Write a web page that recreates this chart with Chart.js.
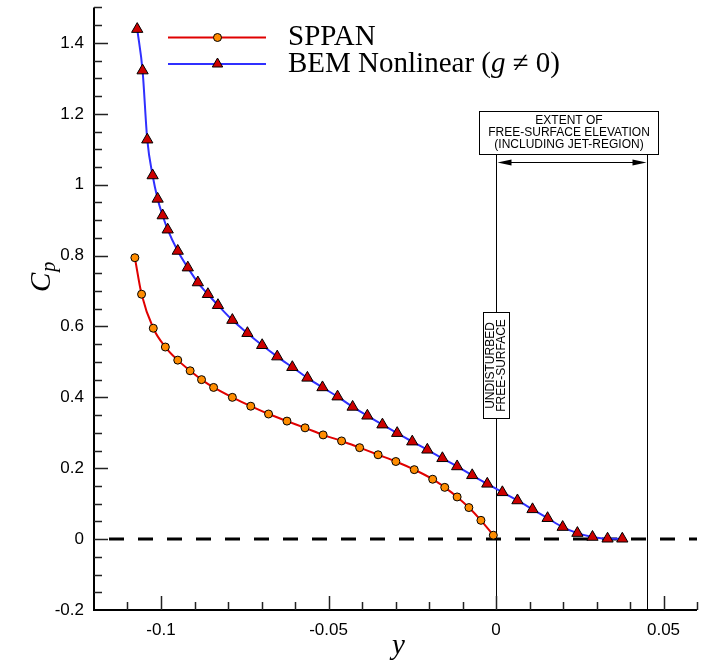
<!DOCTYPE html>
<html>
<head>
<meta charset="utf-8">
<script src="https://cdn.jsdelivr.net/npm/chart.js@4.4.0/dist/chart.umd.min.js"></script>
<style>
  html, body { margin: 0; padding: 0; background: #fff; }
  #wrap { width: 712px; height: 666px; }
</style>
</head>
<body>
<div id="wrap"><canvas id="cp-chart" width="712" height="666"></canvas></div>
<script>
// values
const sppanX = [-0.1078, -0.1058, -0.1023, -0.0987, -0.0950, -0.0913, -0.0879, -0.0843, -0.0787, -0.0732,
                -0.0679, -0.0624, -0.0570, -0.0516, -0.0461, -0.0407, -0.0352, -0.0299, -0.0244, -0.0189,
                -0.0153, -0.0116, -0.0081, -0.0045, -0.0008];
const sppanY = [0.794, 0.691, 0.595, 0.542, 0.505, 0.475, 0.450, 0.428, 0.400, 0.375,
                0.353, 0.333, 0.314, 0.294, 0.277, 0.258, 0.238, 0.219, 0.196, 0.169,
                0.146, 0.119, 0.089, 0.053, 0.011];

const bemX = [-0.1071, -0.1055, -0.1041, -0.1025, -0.1010, -0.0995, -0.0980, -0.0950, -0.0920, -0.0890,
              -0.0860, -0.0830, -0.0787, -0.0742, -0.0698, -0.0653, -0.0608, -0.0563, -0.0518, -0.0473,
              -0.0428, -0.0384, -0.0339, -0.0295, -0.0250, -0.0205, -0.0160, -0.0116, -0.0071, -0.0026,
              0.0019, 0.0064, 0.0109, 0.0154, 0.0199, 0.0243, 0.0288, 0.0333, 0.0377];
const bemY = [1.439, 1.322, 1.127, 1.026, 0.960, 0.913, 0.873, 0.813, 0.766, 0.724,
              0.691, 0.660, 0.618, 0.581, 0.547, 0.515, 0.485, 0.455, 0.428, 0.402,
              0.373, 0.348, 0.323, 0.299, 0.275, 0.252, 0.228, 0.205, 0.180, 0.156,
              0.132, 0.109, 0.084, 0.059, 0.034, 0.017, 0.006, 0.001, 0.001];

const xTicks = [-0.1, -0.05, 0, 0.05];
const xTickLabels = ['-0.1', '-0.05', '0', '0.05'];
const yTicks = [-0.2, 0, 0.2, 0.4, 0.6, 0.8, 1, 1.2, 1.4];
const yTickLabels = ['-0.2', '0', '0.2', '0.4', '0.6', '0.8', '1', '1.2', '1.4'];

const xRange = [-0.12, 0.06];
const yRange = [-0.2, 1.5];
const xMinorStep = 0.01, yMinorStep = 0.05;

// annotation positions (data units)
const freeSurfaceX = 0;
const jetExtentX = 0.045;

const toPoints = (xs, ys) => xs.map((v, i) => ({ x: v, y: ys[i] }));

function drawTriangle(ctx, x, y, r) {
    ctx.beginPath();
    ctx.moveTo(x, y - r);
    ctx.lineTo(x + r * 0.866, y + r * 0.5);
    ctx.lineTo(x - r * 0.866, y + r * 0.5);
    ctx.closePath();
    ctx.fill();
    ctx.stroke();
}

function drawArrowHead(ctx, x, y, dir) {
    ctx.beginPath();
    ctx.moveTo(x, y);
    ctx.lineTo(x - dir * 14, y - 3);
    ctx.lineTo(x - dir * 14, y + 3);
    ctx.closePath();
    ctx.fill();
}

const overlay = {
    id: 'overlay',
    beforeDatasetsDraw(chart) {
        const { ctx, scales: { x, y } } = chart;
        ctx.save();
        const x0 = Math.round(x.getPixelForValue(freeSurfaceX)) + 0.5;
        const x1 = Math.round(x.getPixelForValue(jetExtentX)) + 0.5;
        const lineTop = y.getPixelForValue(1.088);
        const bottom = chart.chartArea.bottom;

        ctx.strokeStyle = '#000';
        ctx.lineWidth = 1;
        ctx.beginPath();
        ctx.moveTo(x0, lineTop); ctx.lineTo(x0, bottom);
        ctx.moveTo(x1, lineTop); ctx.lineTo(x1, bottom);
        ctx.stroke();

        // double arrow
        const ay = Math.round(y.getPixelForValue(1.063)) + 0.5;
        ctx.beginPath();
        ctx.moveTo(x0 + 4, ay); ctx.lineTo(x1 - 4, ay);
        ctx.stroke();
        ctx.fillStyle = '#000';
        drawArrowHead(ctx, x0 + 1, ay, -1);
        drawArrowHead(ctx, x1 - 1, ay, 1);

        // extent box
        const bl = Math.round(x.getPixelForValue(-0.005)) + 0.5;
        const br = Math.round(x.getPixelForValue(0.0484)) + 0.5;
        const bt = Math.round(y.getPixelForValue(1.209)) + 0.5;
        const bb = Math.round(y.getPixelForValue(1.088)) + 0.5;
        ctx.fillStyle = '#fff';
        ctx.fillRect(bl, bt, br - bl, bb - bt);
        ctx.strokeRect(bl, bt, br - bl, bb - bt);
        ctx.fillStyle = '#000';
        ctx.font = '12px "Liberation Sans", Arial, sans-serif';
        ctx.textAlign = 'center';
        ctx.textBaseline = 'middle';
        const bc = (bl + br) / 2;
        ctx.fillText('EXTENT OF', bc, bt + 9.5);
        ctx.fillText('FREE-SURFACE ELEVATION', bc, bt + 21.5);
        ctx.fillText('(INCLUDING JET-REGION)', bc, bt + 33.5);

        // undisturbed free-surface box
        const ul = Math.round(x.getPixelForValue(-0.0039)) + 0.5;
        const ur = Math.round(x.getPixelForValue(0.0039)) + 0.5;
        const ut = Math.round(y.getPixelForValue(0.641)) + 0.5;
        const ub = Math.round(y.getPixelForValue(0.343)) + 0.5;
        ctx.fillStyle = '#fff';
        ctx.fillRect(ul, ut, ur - ul, ub - ut);
        ctx.strokeRect(ul, ut, ur - ul, ub - ut);
        ctx.fillStyle = '#000';
        ctx.save();
        ctx.translate((ul + ur) / 2, (ut + ub) / 2);
        ctx.rotate(-Math.PI / 2);
        ctx.fillText('UNDISTURBED', 0, -5.5);
        ctx.fillText('FREE-SURFACE', 0, 5.5);
        ctx.restore();
        ctx.restore();
    },
    afterDraw(chart) {
        const { ctx, chartArea: a, scales: { x, y } } = chart;
        ctx.save();
        // axis lines
        ctx.strokeStyle = '#000';
        ctx.lineWidth = 2;
        ctx.beginPath();
        ctx.moveTo(a.left, a.top); ctx.lineTo(a.left, a.bottom); ctx.lineTo(a.right, a.bottom);
        ctx.stroke();

        // inward ticks
        ctx.lineWidth = 1.5;
        ctx.strokeStyle = '#222';
        ctx.beginPath();
        const nx = Math.round((xRange[1] - xRange[0]) / xMinorStep);
        for (let i = 1; i <= nx; i++) {
            const v = xRange[0] + i * xMinorStep;
            const major = Math.abs(v / 0.05 - Math.round(v / 0.05)) < 1e-6;
            const px = Math.round(x.getPixelForValue(v)) + 0.5;
            ctx.moveTo(px, a.bottom); ctx.lineTo(px, a.bottom - (major ? 14 : 8));
        }
        const ny = Math.round((yRange[1] - yRange[0]) / yMinorStep);
        for (let i = 1; i <= ny; i++) {
            const v = yRange[0] + i * yMinorStep;
            const major = Math.abs(v / 0.2 - Math.round(v / 0.2)) < 1e-6;
            const py = Math.round(y.getPixelForValue(v)) + 0.5;
            ctx.moveTo(a.left, py); ctx.lineTo(a.left + (major ? 14 : 8), py);
        }
        ctx.stroke();

        // axis titles
        ctx.fillStyle = '#000';
        ctx.textBaseline = 'alphabetic';
        ctx.textAlign = 'center';
        ctx.font = 'italic 29px "Liberation Serif", "Times New Roman", serif';
        ctx.fillText('y', (a.left + a.right) / 2 + 3, 654);

        ctx.save();
        ctx.translate(50, 292);
        ctx.rotate(-Math.PI / 2);
        ctx.textAlign = 'left';
        ctx.fillText('C', 0, 0);
        const cw = ctx.measureText('C').width;
        ctx.font = 'italic 20px "Liberation Serif", "Times New Roman", serif';
        ctx.fillText('p', cw + 1, 5);
        ctx.restore();

        // legend
        const rows = [
            { y: 37.5, color: '#e00000', marker: 'circle' },
            { y: 64, color: '#3030ff', marker: 'triangle' }
        ];
        rows.forEach(r => {
            ctx.strokeStyle = r.color;
            ctx.lineWidth = 2;
            ctx.beginPath();
            ctx.moveTo(168, r.y); ctx.lineTo(266, r.y);
            ctx.stroke();
            ctx.strokeStyle = '#000';
            ctx.lineWidth = 1;
            if (r.marker === 'circle') {
                ctx.fillStyle = '#ff8c00';
                ctx.beginPath();
                ctx.arc(217.5, r.y, 4, 0, Math.PI * 2);
                ctx.fill(); ctx.stroke();
            } else {
                ctx.fillStyle = '#cc0000';
                drawTriangle(ctx, 217.5, r.y, 6);
            }
        });
        ctx.fillStyle = '#000';
        ctx.textAlign = 'left';
        ctx.font = '29px "Liberation Serif", "Times New Roman", serif';
        ctx.fillText('SPPAN', 288, 45);
        let tx = 288;
        const parts = [['BEM Nonlinear (', ''], ['g', 'italic '], [' \u2260 0)', '']];
        parts.forEach(([s, st]) => {
            ctx.font = st + '29px "Liberation Serif", "Times New Roman", serif';
            ctx.fillText(s, tx, 72);
            tx += ctx.measureText(s).width;
        });
        ctx.restore();
    }
};

const tickFont = { family: '"Liberation Sans", Arial, sans-serif', size: 17 };

new Chart(document.getElementById('cp-chart'), {
    type: 'scatter',
    data: {
        datasets: [
            {
                label: 'SPPAN',
                data: toPoints(sppanX, sppanY),
                showLine: true,
                cubicInterpolationMode: 'monotone',
                borderColor: '#e00000',
                borderWidth: 2,
                pointStyle: 'circle',
                pointRadius: 4,
                pointBackgroundColor: '#ff8c00',
                pointBorderColor: '#000',
                pointBorderWidth: 1,
                order: 1
            },
            {
                label: 'BEM Nonlinear',
                data: toPoints(bemX, bemY),
                showLine: true,
                cubicInterpolationMode: 'monotone',
                borderColor: '#3030ff',
                borderWidth: 2,
                pointStyle: 'triangle',
                pointRadius: 6.5,
                pointBackgroundColor: '#cc0000',
                pointBorderColor: '#000',
                pointBorderWidth: 1,
                order: 2
            },
            {
                label: 'zero',
                data: [{ x: xRange[0], y: 0 }, { x: xRange[1], y: 0 }],
                showLine: true,
                borderColor: '#000',
                borderWidth: 3,
                borderDash: [15, 14],
                borderDashOffset: 14,
                pointRadius: 0,
                order: 3
            }
        ]
    },
    options: {
        responsive: false,
        animation: false,
        events: [],
        layout: { padding: { left: 0, right: 15, top: 6, bottom: 0 } },
        plugins: { legend: { display: false }, tooltip: { enabled: false } },
        scales: {
            x: {
                type: 'linear',
                min: xRange[0],
                max: xRange[1],
                grid: { display: false, drawTicks: false },
                border: { display: false },
                afterBuildTicks: s => { s.ticks = xTicks.map(v => ({ value: v })); },
                afterFit: s => { s.height = 56; s.paddingLeft = 0; s.paddingRight = 0; },
                ticks: {
                    autoSkip: false,
                    maxRotation: 0,
                    padding: 10,
                    color: '#000',
                    font: tickFont,
                    callback: v => xTickLabels[xTicks.indexOf(v)]
                }
            },
            y: {
                type: 'linear',
                min: yRange[0],
                max: yRange[1],
                grid: { display: false, drawTicks: false },
                border: { display: false },
                afterBuildTicks: s => { s.ticks = yTicks.map(v => ({ value: v })); },
                afterFit: s => { s.width = 94; s.paddingTop = 0; s.paddingBottom = 0; },
                ticks: {
                    autoSkip: false,
                    padding: 10,
                    color: '#000',
                    font: tickFont,
                    callback: v => yTickLabels[yTicks.indexOf(v)]
                }
            }
        }
    },
    plugins: [overlay]
});
</script>
</body>
</html>
